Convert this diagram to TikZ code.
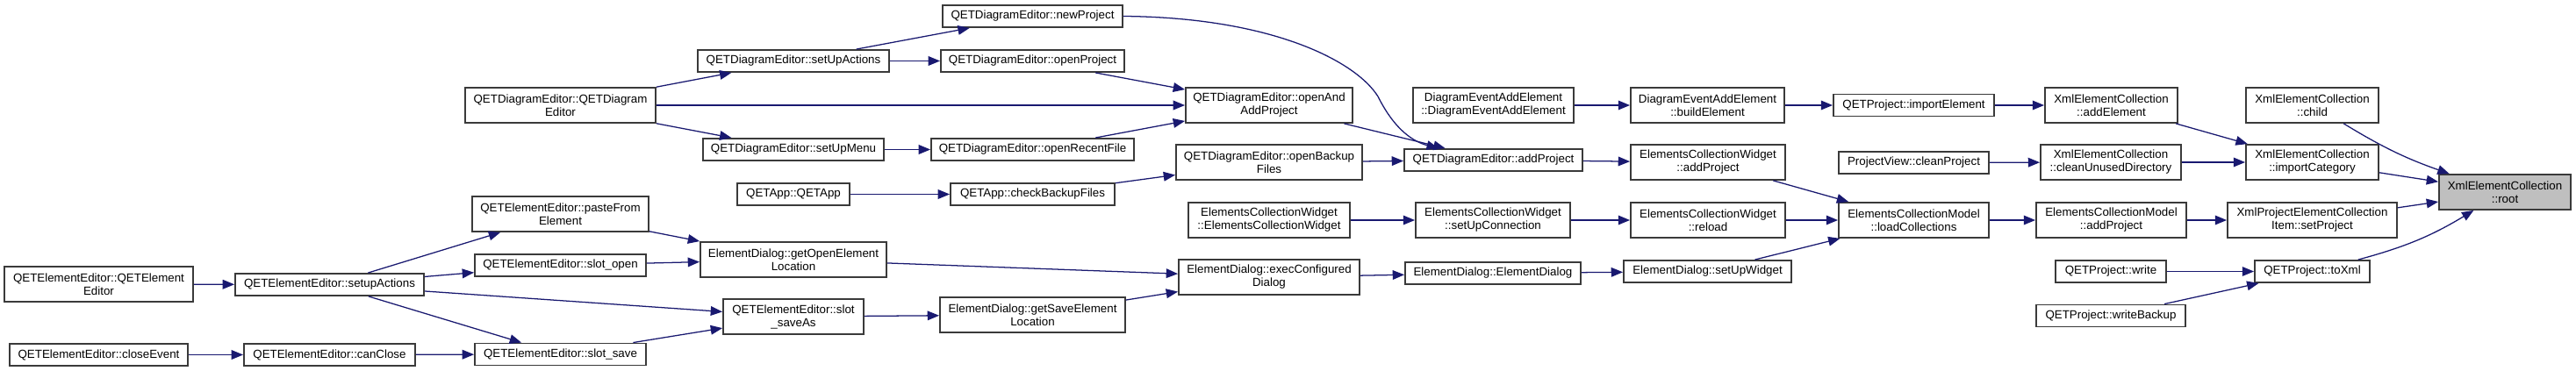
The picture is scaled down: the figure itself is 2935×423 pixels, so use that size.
\documentclass[tikz,border=0pt]{standalone}
\usepackage{fontspec}
\setmainfont{Liberation Sans}
\usepackage{tikz}
\usetikzlibrary{arrows.meta}
\usepackage{xcolor}
\definecolor{edgeblue}{HTML}{191970}
\definecolor{boxgray}{HTML}{3A3A3A}
\definecolor{rootgray}{HTML}{BFBFBF}

\begin{document}
\begin{tikzpicture}[x=0.75pt, y=-0.75pt, font=\fontsize{10}{11.25}\selectfont,
  func/.style={draw=boxgray, line width=1.4pt, fill=white, align=center,
    inner sep=0pt, minimum width=#1*0.75pt, minimum height=18.75pt},
  func2/.style={func=#1, minimum height=30pt},
]
  \useasboundingbox (0,0) rectangle (2935,423);

  % element editor
  \node[func2=215] (el_ctor) at (112.5,324) {QETElementEditor::QETElement\\Editor};
  \node[func=215] (el_setup) at (375.5,324.5) {QETElementEditor::setupActions};
  \node[func=203] (el_close) at (112.5,404.5) {QETElementEditor::closeEvent};
  \node[func=195] (el_canclose) at (375.5,404.5) {QETElementEditor::canClose};
  \node[func2=201] (el_paste) at (638.5,244) {QETElementEditor::pasteFrom\\Element};
  \node[func=195] (el_open) at (638.5,302.5) {QETElementEditor::slot\_open};
  \node[func=195] (el_save) at (638.5,404) {QETElementEditor::slot\_save};
  \node[func2=160] (el_saveas) at (904,361) {QETElementEditor::slot\\\_saveAs};

  % diagram editor
  \node[func2=217] (de_ctor) at (638.5,120) {QETDiagramEditor::QETDiagram\\Editor};
  \node[func=218] (de_setupactions) at (904,69.5) {QETDiagramEditor::setUpActions};
  \node[func=206] (de_setupmenu) at (904,170.5) {QETDiagramEditor::setUpMenu};
  \node[func=205] (de_newproject) at (1176.5,18.5) {QETDiagramEditor::newProject};
  \node[func=209] (de_openproject) at (1176.5,69.5) {QETDiagramEditor::openProject};
  \node[func=231] (de_openrecent) at (1176.5,170.5) {QETDiagramEditor::openRecentFile};
  \node[func2=190] (de_openandadd) at (1446,120) {QETDiagramEditor::openAnd\\AddProject};
  \node[func2=212] (de_openbackup) at (1446,185) {QETDiagramEditor::openBackup\\Files};
  \node[func=203] (de_addproject) at (1701.5,182.5) {QETDiagramEditor::addProject};

  % app
  \node[func=128] (app_ctor) at (904,221.5) {QETApp::QETApp};
  \node[func=187] (app_checkbackup) at (1176.5,221.5) {QETApp::checkBackupFiles};

  % element dialog
  \node[func2=212] (dlg_getopen) at (904,296) {ElementDialog::getOpenElement\\Location};
  \node[func2=211] (dlg_getsave) at (1176.5,359) {ElementDialog::getSaveElement\\Location};
  \node[func2=206] (dlg_exec) at (1446,316) {ElementDialog::execConfigured\\Dialog};
  \node[func=200] (dlg_ctor) at (1701,311.5) {ElementDialog::ElementDialog};
  \node[func=191] (dlg_setupwidget) at (1945.5,309.5) {ElementDialog::setUpWidget};

  % collection widget / model
  \node[func2=184] (ecw_ctor) at (1446,251) {ElementsCollectionWidget\\::ElementsCollectionWidget};
  \node[func2=176] (ecw_setupconn) at (1701,251) {ElementsCollectionWidget\\::setUpConnection};
  \node[func2=176] (ecw_addproject) at (1946,185) {ElementsCollectionWidget\\::addProject};
  \node[func2=176] (ecw_reload) at (1946,251) {ElementsCollectionWidget\\::reload};
  \node[func2=171] (ecm_load) at (2180.5,251) {ElementsCollectionModel\\::loadCollections};
  \node[func2=171] (ecm_addproject) at (2405.5,251) {ElementsCollectionModel\\::addProject};

  % diagram event
  \node[func2=183] (deae_ctor) at (1701.5,120) {DiagramEventAddElement\\::DiagramEventAddElement};
  \node[func2=175] (deae_build) at (1945.5,120) {DiagramEventAddElement\\::buildElement};

  % project
  \node[func=183] (prj_import) at (2180.5,120) {QETProject::importElement};
  \node[func=171] (pv_clean) at (2180.5,185.5) {ProjectView::cleanProject};
  \node[func=126] (prj_write) at (2405,309.5) {QETProject::write};
  \node[func=170] (prj_writebackup) at (2405,360) {QETProject::writeBackup};
  \node[func=131] (prj_toxml) at (2634.5,309.5) {QETProject::toXml};

  % xml collection
  \node[func2=151] (xec_addelement) at (2405.5,120) {XmlElementCollection\\::addElement};
  \node[func2=160] (xec_clean) at (2405,185) {XmlElementCollection\\::cleanUnusedDirectory};
  \node[func2=151] (xec_child) at (2634.5,120) {XmlElementCollection\\::child};
  \node[func2=151] (xec_importcat) at (2634.5,185) {XmlElementCollection\\::importCategory};
  \node[func2=193] (xpeci_setproject) at (2634.5,251) {XmlProjectElementCollection\\Item::setProject};
  \node[func2=150, fill=rootgray] (xec_root) at (2854,219) {XmlElementCollection\\::root};

  \begin{scope}[
    draw=edgeblue,
    line width=0.95pt,
    >={Triangle[length=10pt, width=8pt]},
  ]
    \draw[->] (el_ctor) -- (el_setup);
    \draw[->] (el_close) -- (el_canclose);
    \draw[->] (el_setup) -- (el_paste);
    \draw[->] (el_setup) -- (el_open);
    \draw[->] (el_setup) -- (el_saveas);
    \draw[->] (el_setup) -- (el_save);
    \draw[->] (el_canclose) -- (el_save);
    \draw[->] (el_paste) -- (dlg_getopen);
    \draw[->] (el_open) -- (dlg_getopen);
    \draw[->] (el_save) -- (el_saveas);
    \draw[->] (de_ctor) -- (de_setupactions);
    \draw[->] (de_ctor) -- (de_openandadd);
    \draw[->] (de_ctor) -- (de_setupmenu);
    \draw[->] (de_setupactions) -- (de_newproject);
    \draw[->] (de_setupactions) -- (de_openproject);
    \draw[->] (de_setupmenu) -- (de_openrecent);
    \draw[->] (app_ctor) -- (app_checkbackup);
    \draw[->] (dlg_getopen) -- (dlg_exec);
    \draw[->] (el_saveas) -- (dlg_getsave);
    \draw[->] (de_openproject) -- (de_openandadd);
    \draw[->] (de_openrecent) -- (de_openandadd);
    \draw[->] (app_checkbackup) -- (de_openbackup);
    \draw[->] (dlg_getsave) -- (dlg_exec);
    \draw[->] (de_newproject.east) .. controls (1450,20) and (1545,70) .. (1570,110)
      .. controls (1590,150) and (1612,162) .. ([xshift=-47pt]de_addproject.north);
    \draw[->] (de_openandadd) -- (de_addproject);
    \draw[->] (de_openbackup) -- (de_addproject);
    \draw[->] (ecw_ctor) -- (ecw_setupconn);
    \draw[->] (dlg_exec) -- (dlg_ctor);
    \draw[->] (deae_ctor) -- (deae_build);
    \draw[->] (de_addproject) -- (ecw_addproject);
    \draw[->] (ecw_setupconn) -- (ecw_reload);
    \draw[->] (dlg_ctor) -- (dlg_setupwidget);
    \draw[->] (deae_build) -- (prj_import);
    \draw[->] (ecw_addproject) -- (ecm_load);
    \draw[->] (ecw_reload) -- (ecm_load);
    \draw[->] (dlg_setupwidget) -- (ecm_load);
    \draw[->] (prj_import) -- (xec_addelement);
    \draw[->] (pv_clean) -- (xec_clean);
    \draw[->] (ecm_load) -- (ecm_addproject);
    \draw[->] (xec_addelement) -- (xec_importcat);
    \draw[->] (xec_clean) -- (xec_importcat);
    \draw[->] (ecm_addproject) -- (xpeci_setproject);
    \draw[->] (prj_write) -- (prj_toxml);
    \draw[->] (prj_writebackup) -- (prj_toxml);
    \draw[->] (xec_child) to[bend right=6] (xec_root);
    \draw[->] (xec_importcat) -- (xec_root);
    \draw[->] (xpeci_setproject) -- (xec_root);
    \draw[->] (prj_toxml) to[bend right=8] (xec_root);
  \end{scope}
\end{tikzpicture}
\end{document}
